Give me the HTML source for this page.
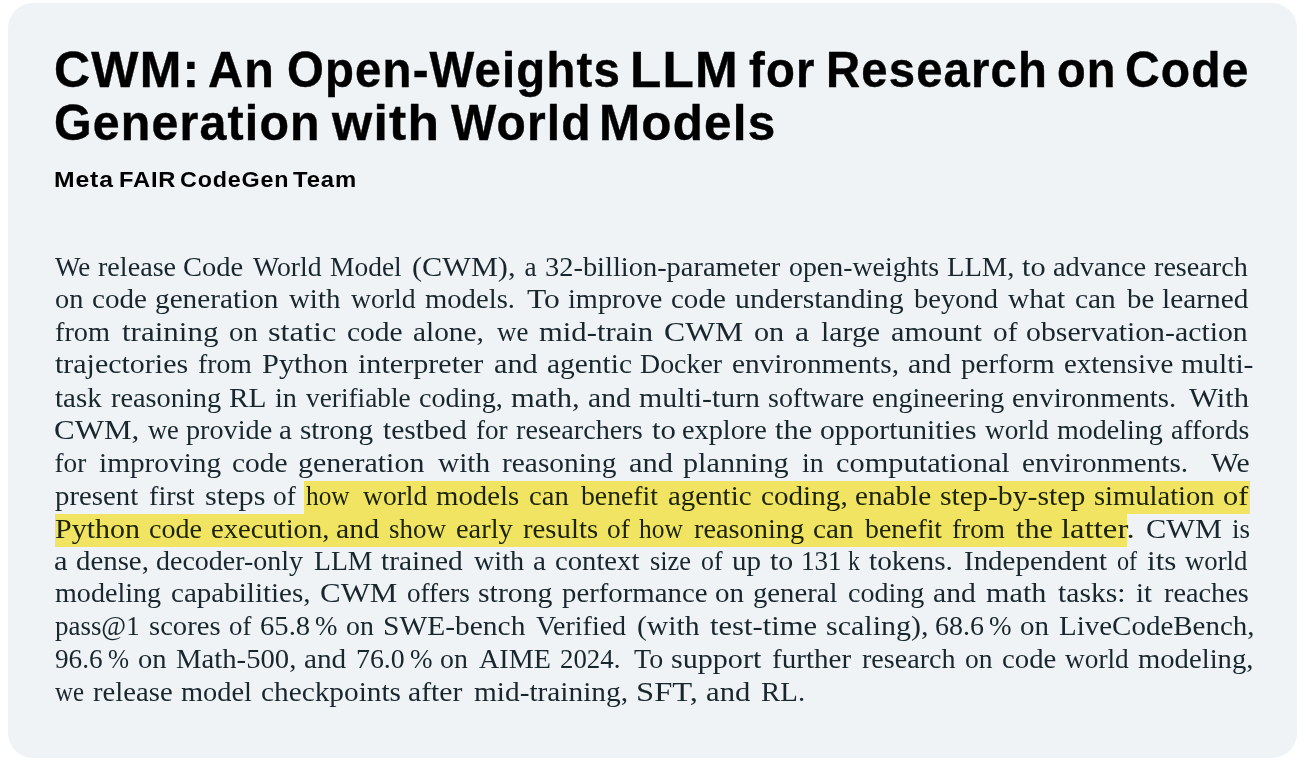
<!DOCTYPE html>
<html><head><meta charset="utf-8">
<style>
html,body{margin:0;padding:0;background:#fff;width:1306px;height:768px;overflow:hidden;position:relative}
.card{position:absolute;left:8px;top:3px;width:1289px;height:755px;border-radius:25px;background:#eff3f6}
.w{position:absolute;white-space:nowrap;font-family:"Liberation Sans",sans-serif;font-weight:bold;color:#000;transform-origin:0 0;line-height:0}
.t1{font-size:50px;letter-spacing:1.2px;-webkit-text-stroke:0.4px #000}
.sub{font-size:22.7px;letter-spacing:0.8px}
.w2{position:absolute;white-space:pre;font-family:"Liberation Serif",serif;font-size:27.2px;line-height:0;color:#18272e;transform-origin:0 0}
.h{color:#1c2300}
.hl{position:absolute;background:#f0e462}
.txt{position:absolute;left:0;top:0;width:1306px;height:768px;will-change:transform}
</style></head>
<body>
<div class="card"></div>
<div class="txt">
<div class="hl" style="left:303.9px;top:480.6px;width:946.20px;height:33.40px"></div>
<div class="hl" style="left:55.4px;top:514.0px;width:1071.80px;height:32.80px"></div>
<span class="w t1" id="a0" style="left:54.00px;top:70.00px;transform:scaleX(0.9993)">CWM:</span>
<span class="w t1" id="a1" style="left:207.54px;top:70.00px;transform:scaleX(0.9685)">An</span>
<span class="w t1" id="a2" style="left:286.62px;top:70.00px;transform:scaleX(0.9476)">Open-Weights</span>
<span class="w t1" id="a3" style="left:630.41px;top:70.00px;transform:scaleX(1.0240)">LLM</span>
<span class="w t1" id="a4" style="left:748.57px;top:70.00px;transform:scaleX(0.9464)">for</span>
<span class="w t1" id="a5" style="left:825.67px;top:70.00px;transform:scaleX(0.9458)">Research</span>
<span class="w t1" id="a6" style="left:1056.63px;top:70.00px;transform:scaleX(0.9398)">on</span>
<span class="w t1" id="a7" style="left:1125.09px;top:70.00px;transform:scaleX(0.9598)">Code</span>
<span class="w t1" id="b0" style="left:53.54px;top:122.70px;transform:scaleX(0.9669)">Generation</span>
<span class="w t1" id="b1" style="left:331.97px;top:122.70px;transform:scaleX(1.0325)">with</span>
<span class="w t1" id="b2" style="left:450.52px;top:122.70px;transform:scaleX(0.9591)">World</span>
<span class="w t1" id="b3" style="left:599.01px;top:122.70px;transform:scaleX(0.9883)">Models</span>
<span class="w sub" id="c0" style="left:54.33px;top:179.40px;transform:scaleX(1.0906)">Meta</span>
<span class="w sub" id="c1" style="left:118.92px;top:179.40px;transform:scaleX(1.0440)">FAIR</span>
<span class="w sub" id="c2" style="left:180.47px;top:179.40px;transform:scaleX(1.0272)">CodeGen</span>
<span class="w sub" id="c3" style="left:292.97px;top:179.40px;transform:scaleX(1.0519)">Team</span>
<span class="w2" style="left:54.70px;top:266.80px;transform:scaleX(0.9913)">We</span>
<span class="w2" style="left:97.68px;top:266.80px;transform:scaleX(1.0351)">release</span>
<span class="w2" style="left:182.85px;top:266.80px;transform:scaleX(1.0487)">Code</span>
<span class="w2" style="left:252.90px;top:266.80px;transform:scaleX(1.0194)">World</span>
<span class="w2" style="left:330.19px;top:266.80px;transform:scaleX(1.0100)">Model</span>
<span class="w2" style="left:412.46px;top:266.80px;transform:scaleX(1.1144)">(CWM),</span>
<span class="w2" style="left:524.60px;top:266.80px;transform:scaleX(1.0000)">a</span>
<span class="w2" style="left:545.14px;top:266.80px;transform:scaleX(1.0456)">32-billion-parameter</span>
<span class="w2" style="left:789.38px;top:266.80px;transform:scaleX(1.0249)">open-weights</span>
<span class="w2" style="left:947.46px;top:266.80px;transform:scaleX(1.0486)">LLM,</span>
<span class="w2" style="left:1022.27px;top:266.80px;transform:scaleX(1.1162)">to</span>
<span class="w2" style="left:1053.15px;top:266.80px;transform:scaleX(1.0459)">advance</span>
<span class="w2" style="left:1154.48px;top:266.80px;transform:scaleX(1.0357)">research</span>
<span class="w2" style="left:54.56px;top:298.80px;transform:scaleX(1.0426)">on</span>
<span class="w2" style="left:91.73px;top:298.80px;transform:scaleX(1.0709)">code</span>
<span class="w2" style="left:154.71px;top:298.80px;transform:scaleX(1.0760)">generation</span>
<span class="w2" style="left:289.00px;top:298.80px;transform:scaleX(1.0625)">with</span>
<span class="w2" style="left:350.80px;top:298.80px;transform:scaleX(1.0190)">world</span>
<span class="w2" style="left:425.17px;top:298.80px;transform:scaleX(1.0542)">models.</span>
<span class="w2" style="left:527.02px;top:298.80px;transform:scaleX(1.1604)">To</span>
<span class="w2" style="left:567.68px;top:298.80px;transform:scaleX(1.0415)">improve</span>
<span class="w2" style="left:670.53px;top:298.80px;transform:scaleX(1.0668)">code</span>
<span class="w2" style="left:735.36px;top:298.80px;transform:scaleX(1.0946)">understanding</span>
<span class="w2" style="left:913.90px;top:298.80px;transform:scaleX(1.0489)">beyond</span>
<span class="w2" style="left:1008.20px;top:298.80px;transform:scaleX(1.0797)">what</span>
<span class="w2" style="left:1074.72px;top:298.80px;transform:scaleX(1.0799)">can</span>
<span class="w2" style="left:1126.80px;top:298.80px;transform:scaleX(1.0607)">be</span>
<span class="w2" style="left:1161.86px;top:298.80px;transform:scaleX(1.0795)">learned</span>
<span class="w2" style="left:54.57px;top:331.60px;transform:scaleX(1.0407)">from</span>
<span class="w2" style="left:121.66px;top:331.60px;transform:scaleX(1.1396)">training</span>
<span class="w2" style="left:228.54px;top:331.60px;transform:scaleX(1.0581)">on</span>
<span class="w2" style="left:268.39px;top:331.60px;transform:scaleX(1.1910)">static</span>
<span class="w2" style="left:346.51px;top:331.60px;transform:scaleX(1.0850)">code</span>
<span class="w2" style="left:412.92px;top:331.60px;transform:scaleX(1.0794)">alone,</span>
<span class="w2" style="left:496.50px;top:331.60px;transform:scaleX(0.9870)">we</span>
<span class="w2" style="left:538.62px;top:331.60px;transform:scaleX(1.1277)">mid-train</span>
<span class="w2" style="left:664.42px;top:331.60px;transform:scaleX(1.1664)">CWM</span>
<span class="w2" style="left:754.19px;top:331.60px;transform:scaleX(1.1124)">on</span>
<span class="w2" style="left:795.23px;top:331.60px;transform:scaleX(1.1682)">a</span>
<span class="w2" style="left:820.75px;top:331.60px;transform:scaleX(1.0973)">large</span>
<span class="w2" style="left:890.59px;top:331.60px;transform:scaleX(1.1144)">amount</span>
<span class="w2" style="left:993.32px;top:331.60px;transform:scaleX(1.0783)">of</span>
<span class="w2" style="left:1026.40px;top:331.60px;transform:scaleX(1.0960)">observation-action</span>
<span class="w2" style="left:54.97px;top:364.40px;transform:scaleX(1.1021)">trajectories</span>
<span class="w2" style="left:197.88px;top:364.40px;transform:scaleX(1.0194)">from</span>
<span class="w2" style="left:262.11px;top:364.40px;transform:scaleX(1.1173)">Python</span>
<span class="w2" style="left:357.84px;top:364.40px;transform:scaleX(1.1077)">interpreter</span>
<span class="w2" style="left:494.29px;top:364.40px;transform:scaleX(1.1108)">and</span>
<span class="w2" style="left:547.12px;top:364.40px;transform:scaleX(1.0821)">agentic</span>
<span class="w2" style="left:640.38px;top:364.40px;transform:scaleX(1.0266)">Docker</span>
<span class="w2" style="left:731.71px;top:364.40px;transform:scaleX(1.0789)">environments,</span>
<span class="w2" style="left:907.60px;top:364.40px;transform:scaleX(1.1029)">and</span>
<span class="w2" style="left:960.77px;top:364.40px;transform:scaleX(1.0691)">perform</span>
<span class="w2" style="left:1063.53px;top:364.40px;transform:scaleX(1.0645)">extensive</span>
<span class="w2" style="left:1180.85px;top:364.40px;transform:scaleX(1.0909)">multi-</span>
<span class="w2" style="left:55.28px;top:397.50px;transform:scaleX(1.0667)">task</span>
<span class="w2" style="left:110.68px;top:397.50px;transform:scaleX(1.0420)">reasoning</span>
<span class="w2" style="left:229.34px;top:397.50px;transform:scaleX(1.0805)">RL</span>
<span class="w2" style="left:274.88px;top:397.50px;transform:scaleX(1.0371)">in</span>
<span class="w2" style="left:306.20px;top:397.50px;transform:scaleX(1.0048)">verifiable</span>
<span class="w2" style="left:418.86px;top:397.50px;transform:scaleX(1.0371)">coding,</span>
<span class="w2" style="left:511.03px;top:397.50px;transform:scaleX(1.1222)">math,</span>
<span class="w2" style="left:587.81px;top:397.50px;transform:scaleX(1.0897)">and</span>
<span class="w2" style="left:639.24px;top:397.50px;transform:scaleX(1.0979)">multi-turn</span>
<span class="w2" style="left:767.97px;top:397.50px;transform:scaleX(1.0284)">software</span>
<span class="w2" style="left:872.47px;top:397.50px;transform:scaleX(1.0305)">engineering</span>
<span class="w2" style="left:1012.43px;top:397.50px;transform:scaleX(1.0612)">environments.</span>
<span class="w2" style="left:1188.90px;top:397.50px;transform:scaleX(1.1248)">With</span>
<span class="w2" style="left:54.05px;top:429.80px;transform:scaleX(1.1403)">CWM,</span>
<span class="w2" style="left:147.80px;top:429.80px;transform:scaleX(0.9740)">we</span>
<span class="w2" style="left:185.98px;top:429.80px;transform:scaleX(1.0379)">provide</span>
<span class="w2" style="left:279.33px;top:429.80px;transform:scaleX(1.0654)">a</span>
<span class="w2" style="left:299.82px;top:429.80px;transform:scaleX(1.0738)">strong</span>
<span class="w2" style="left:382.67px;top:429.80px;transform:scaleX(1.0877)">testbed</span>
<span class="w2" style="left:475.60px;top:429.80px;transform:scaleX(0.9989)">for</span>
<span class="w2" style="left:516.08px;top:429.80px;transform:scaleX(1.0364)">researchers</span>
<span class="w2" style="left:651.86px;top:429.80px;transform:scaleX(1.1317)">to</span>
<span class="w2" style="left:682.06px;top:429.80px;transform:scaleX(1.0409)">explore</span>
<span class="w2" style="left:775.19px;top:429.80px;transform:scaleX(1.1188)">the</span>
<span class="w2" style="left:819.81px;top:429.80px;transform:scaleX(1.0904)">opportunities</span>
<span class="w2" style="left:984.50px;top:429.80px;transform:scaleX(1.0032)">world</span>
<span class="w2" style="left:1057.08px;top:429.80px;transform:scaleX(1.0295)">modeling</span>
<span class="w2" style="left:1171.18px;top:429.80px;transform:scaleX(1.0228)">affords</span>
<span class="w2" style="left:54.50px;top:462.90px;transform:scaleX(1.0000)">for</span>
<span class="w2" style="left:99.05px;top:462.90px;transform:scaleX(1.0784)">improving</span>
<span class="w2" style="left:231.91px;top:462.90px;transform:scaleX(1.0850)">code</span>
<span class="w2" style="left:298.38px;top:462.90px;transform:scaleX(1.1016)">generation</span>
<span class="w2" style="left:437.90px;top:462.90px;transform:scaleX(1.0771)">with</span>
<span class="w2" style="left:502.16px;top:462.90px;transform:scaleX(1.0821)">reasoning</span>
<span class="w2" style="left:628.58px;top:462.90px;transform:scaleX(1.1214)">and</span>
<span class="w2" style="left:683.46px;top:462.90px;transform:scaleX(1.1103)">planning</span>
<span class="w2" style="left:801.79px;top:462.90px;transform:scaleX(1.0249)">in</span>
<span class="w2" style="left:835.78px;top:462.90px;transform:scaleX(1.1175)">computational</span>
<span class="w2" style="left:1021.72px;top:462.90px;transform:scaleX(1.0730)">environments.</span>
<span class="w2" style="left:1211.20px;top:462.90px;transform:scaleX(1.0896)">We</span>
<span class="w2" style="left:55.18px;top:495.70px;transform:scaleX(1.0603)">present</span>
<span class="w2" style="left:148.97px;top:495.70px;transform:scaleX(1.0396)">first</span>
<span class="w2" style="left:204.68px;top:495.70px;transform:scaleX(1.1109)">steps</span>
<span class="w2" style="left:273.30px;top:495.70px;transform:scaleX(1.0046)">of</span>
<span class="w2 h" style="left:305.92px;top:495.70px;transform:scaleX(0.9310)">how</span>
<span class="w2 h" style="left:362.50px;top:495.70px;transform:scaleX(1.0127)">world</span>
<span class="w2 h" style="left:436.06px;top:495.70px;transform:scaleX(1.0584)">models</span>
<span class="w2 h" style="left:528.64px;top:495.70px;transform:scaleX(1.0551)">can</span>
<span class="w2 h" style="left:580.70px;top:495.70px;transform:scaleX(1.0199)">benefit</span>
<span class="w2 h" style="left:668.04px;top:495.70px;transform:scaleX(1.0639)">agentic</span>
<span class="w2 h" style="left:761.13px;top:495.70px;transform:scaleX(1.0730)">coding,</span>
<span class="w2 h" style="left:854.92px;top:495.70px;transform:scaleX(1.0726)">enable</span>
<span class="w2 h" style="left:940.10px;top:495.70px;transform:scaleX(1.0940)">step-by-step</span>
<span class="w2 h" style="left:1094.44px;top:495.70px;transform:scaleX(1.0503)">simulation</span>
<span class="w2 h" style="left:1223.08px;top:495.70px;transform:scaleX(1.1152)">of</span>
<span class="w2 h" style="left:54.72px;top:528.60px;transform:scaleX(1.1014)">Python</span>
<span class="w2 h" style="left:148.77px;top:528.60px;transform:scaleX(1.0324)">code</span>
<span class="w2 h" style="left:210.64px;top:528.60px;transform:scaleX(1.0520)">execution,</span>
<span class="w2 h" style="left:336.40px;top:528.60px;transform:scaleX(1.0974)">and</span>
<span class="w2 h" style="left:389.08px;top:528.60px;transform:scaleX(0.9933)">show</span>
<span class="w2 h" style="left:456.25px;top:528.60px;transform:scaleX(1.0451)">early</span>
<span class="w2 h" style="left:523.47px;top:528.60px;transform:scaleX(1.0590)">results</span>
<span class="w2 h" style="left:606.90px;top:528.60px;transform:scaleX(1.0046)">of</span>
<span class="w2 h" style="left:638.62px;top:528.60px;transform:scaleX(0.9353)">how</span>
<span class="w2 h" style="left:694.38px;top:528.60px;transform:scaleX(1.0420)">reasoning</span>
<span class="w2 h" style="left:813.33px;top:528.60px;transform:scaleX(1.0744)">can</span>
<span class="w2 h" style="left:864.90px;top:528.60px;transform:scaleX(1.0212)">benefit</span>
<span class="w2 h" style="left:952.00px;top:528.60px;transform:scaleX(1.0019)">from</span>
<span class="w2 h" style="left:1015.67px;top:528.60px;transform:scaleX(1.1125)">the</span>
<span class="w2 h" style="left:1061.40px;top:528.60px;transform:scaleX(1.2054)">latter.</span>
<span class="w2" style="left:1145.77px;top:528.60px;transform:scaleX(1.1180)">CWM</span>
<span class="w2" style="left:1232.20px;top:528.60px;transform:scaleX(0.9962)">is</span>
<span class="w2" style="left:54.48px;top:560.80px;transform:scaleX(1.1215)">a</span>
<span class="w2" style="left:75.74px;top:560.80px;transform:scaleX(1.0606)">dense,</span>
<span class="w2" style="left:156.17px;top:560.80px;transform:scaleX(1.0282)">decoder-only</span>
<span class="w2" style="left:313.68px;top:560.80px;transform:scaleX(1.0197)">LLM</span>
<span class="w2" style="left:381.38px;top:560.80px;transform:scaleX(1.0828)">trained</span>
<span class="w2" style="left:473.60px;top:560.80px;transform:scaleX(1.0375)">with</span>
<span class="w2" style="left:533.43px;top:560.80px;transform:scaleX(1.0748)">a</span>
<span class="w2" style="left:555.25px;top:560.80px;transform:scaleX(1.0545)">context</span>
<span class="w2" style="left:649.93px;top:560.80px;transform:scaleX(0.9701)">size</span>
<span class="w2" style="left:700.65px;top:560.80px;transform:scaleX(0.9493)">of</span>
<span class="w2" style="left:732.17px;top:560.80px;transform:scaleX(1.0700)">up</span>
<span class="w2" style="left:770.17px;top:560.80px;transform:scaleX(1.1010)">to</span>
<span class="w2" style="left:801.41px;top:560.80px;transform:scaleX(0.9973)">131</span>
<span class="w2" style="left:848.16px;top:560.80px;transform:scaleX(0.8702)">k</span>
<span class="w2" style="left:868.98px;top:560.80px;transform:scaleX(1.0793)">tokens.</span>
<span class="w2" style="left:963.74px;top:560.80px;transform:scaleX(1.0645)">Independent</span>
<span class="w2" style="left:1116.81px;top:560.80px;transform:scaleX(0.8894)">of</span>
<span class="w2" style="left:1147.31px;top:560.80px;transform:scaleX(1.1452)">its</span>
<span class="w2" style="left:1185.30px;top:560.80px;transform:scaleX(0.9826)">world</span>
<span class="w2" style="left:54.98px;top:593.00px;transform:scaleX(1.0335)">modeling</span>
<span class="w2" style="left:171.03px;top:593.00px;transform:scaleX(1.0688)">capabilities,</span>
<span class="w2" style="left:320.15px;top:593.00px;transform:scaleX(1.1377)">CWM</span>
<span class="w2" style="left:407.10px;top:593.00px;transform:scaleX(0.9984)">offers</span>
<span class="w2" style="left:477.69px;top:593.00px;transform:scaleX(1.0964)">strong</span>
<span class="w2" style="left:561.58px;top:593.00px;transform:scaleX(1.0588)">performance</span>
<span class="w2" style="left:715.43px;top:593.00px;transform:scaleX(1.0659)">on</span>
<span class="w2" style="left:753.13px;top:593.00px;transform:scaleX(1.0562)">general</span>
<span class="w2" style="left:847.57px;top:593.00px;transform:scaleX(1.0317)">coding</span>
<span class="w2" style="left:933.41px;top:593.00px;transform:scaleX(1.0897)">and</span>
<span class="w2" style="left:986.13px;top:593.00px;transform:scaleX(1.1105)">math</span>
<span class="w2" style="left:1058.17px;top:593.00px;transform:scaleX(1.0909)">tasks:</span>
<span class="w2" style="left:1136.37px;top:593.00px;transform:scaleX(1.0556)">it</span>
<span class="w2" style="left:1164.08px;top:593.00px;transform:scaleX(1.0413)">reaches</span>
<span class="w2" style="left:55.20px;top:626.40px;transform:scaleX(0.9904)">pass@1</span>
<span class="w2" style="left:148.64px;top:626.40px;transform:scaleX(1.0531)">scores</span>
<span class="w2" style="left:228.51px;top:626.40px;transform:scaleX(0.9862)">of</span>
<span class="w2" style="left:259.74px;top:626.40px;transform:scaleX(1.0529)">65.8</span>
<span class="w2" style="left:314.81px;top:626.40px;transform:scaleX(0.9904)">%</span>
<span class="w2" style="left:346.18px;top:626.40px;transform:scaleX(1.0233)">on</span>
<span class="w2" style="left:383.15px;top:626.40px;transform:scaleX(1.0843)">SWE-bench</span>
<span class="w2" style="left:536.49px;top:626.40px;transform:scaleX(1.0287)">Verified</span>
<span class="w2" style="left:637.09px;top:626.40px;transform:scaleX(1.0894)">(with</span>
<span class="w2" style="left:710.36px;top:626.40px;transform:scaleX(1.1257)">test-time</span>
<span class="w2" style="left:825.59px;top:626.40px;transform:scaleX(1.1032)">scaling),</span>
<span class="w2" style="left:934.57px;top:626.40px;transform:scaleX(1.0285)">68.6</span>
<span class="w2" style="left:988.70px;top:626.40px;transform:scaleX(0.9952)">%</span>
<span class="w2" style="left:1020.23px;top:626.40px;transform:scaleX(1.0659)">on</span>
<span class="w2" style="left:1059.05px;top:626.40px;transform:scaleX(1.0657)">LiveCodeBench,</span>
<span class="w2" style="left:54.70px;top:659.40px;transform:scaleX(1.0022)">96.6</span>
<span class="w2" style="left:107.66px;top:659.40px;transform:scaleX(0.9279)">%</span>
<span class="w2" style="left:137.75px;top:659.40px;transform:scaleX(1.0504)">on</span>
<span class="w2" style="left:175.86px;top:659.40px;transform:scaleX(1.0556)">Math-500,</span>
<span class="w2" style="left:304.22px;top:659.40px;transform:scaleX(1.0765)">and</span>
<span class="w2" style="left:355.76px;top:659.40px;transform:scaleX(1.0246)">76.0</span>
<span class="w2" style="left:409.50px;top:659.40px;transform:scaleX(0.9952)">%</span>
<span class="w2" style="left:440.38px;top:659.40px;transform:scaleX(1.0233)">on</span>
<span class="w2" style="left:478.99px;top:659.40px;transform:scaleX(1.0339)">AIME</span>
<span class="w2" style="left:559.72px;top:659.40px;transform:scaleX(0.9863)">2024.</span>
<span class="w2" style="left:634.39px;top:659.40px;transform:scaleX(1.0299)">To</span>
<span class="w2" style="left:671.18px;top:659.40px;transform:scaleX(1.1071)">support</span>
<span class="w2" style="left:771.94px;top:659.40px;transform:scaleX(1.0699)">further</span>
<span class="w2" style="left:861.88px;top:659.40px;transform:scaleX(1.0334)">research</span>
<span class="w2" style="left:965.19px;top:659.40px;transform:scaleX(1.0116)">on</span>
<span class="w2" style="left:1002.34px;top:659.40px;transform:scaleX(1.0587)">code</span>
<span class="w2" style="left:1065.40px;top:659.40px;transform:scaleX(1.0048)">world</span>
<span class="w2" style="left:1137.77px;top:659.40px;transform:scaleX(1.0541)">modeling,</span>
<span class="w2" style="left:54.70px;top:691.50px;transform:scaleX(0.9156)">we</span>
<span class="w2" style="left:93.07px;top:691.50px;transform:scaleX(1.0554)">release</span>
<span class="w2" style="left:180.87px;top:691.50px;transform:scaleX(1.0449)">model</span>
<span class="w2" style="left:260.92px;top:691.50px;transform:scaleX(1.0782)">checkpoints</span>
<span class="w2" style="left:408.01px;top:691.50px;transform:scaleX(1.0926)">after</span>
<span class="w2" style="left:473.75px;top:691.50px;transform:scaleX(1.0790)">mid-training,</span>
<span class="w2" style="left:636.14px;top:691.50px;transform:scaleX(1.1996)">SFT,</span>
<span class="w2" style="left:706.07px;top:691.50px;transform:scaleX(1.1293)">and</span>
<span class="w2" style="left:761.45px;top:691.50px;transform:scaleX(1.0615)">RL.</span>
</div>
</body></html>
